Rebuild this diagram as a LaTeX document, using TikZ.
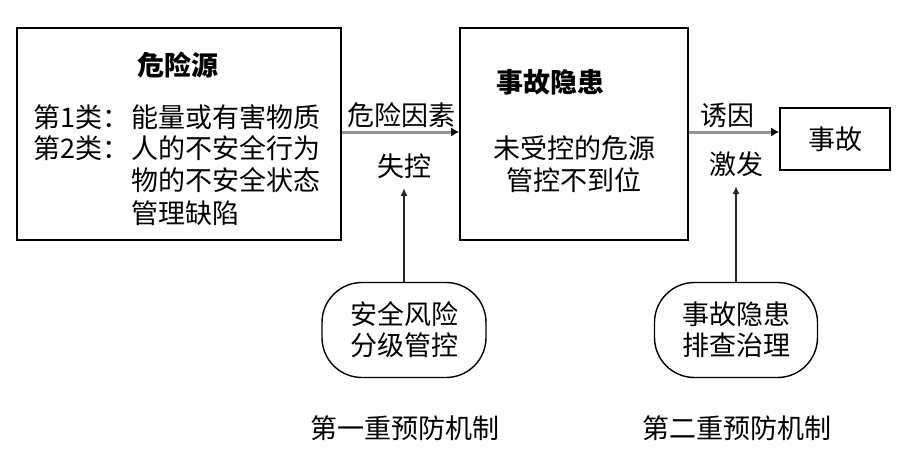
\documentclass[tikz,border=0pt]{standalone}
\usepackage{fontspec}
\setmainfont{Noto Sans CJK SC}
\usetikzlibrary{arrows.meta}
\begin{document}
\begin{tikzpicture}[x=1pt,y=-1pt,
  every node/.style={font=\fontsize{27}{31}\selectfont, inner sep=0pt},
  boxA/.style={draw, line width=1.6pt},
  pill/.style={draw, line width=1.4pt, rounded corners=40pt},
  harrow/.style={draw=gray!85, line width=3pt, -{Latex[length=8pt,width=9pt,black]}},
  varrow/.style={draw=black!85, line width=1.6pt, -{Latex[length=8pt,width=7pt]}}]
\useasboundingbox (0,0) rectangle (916,464);
\node[boxA, minimum width=324pt, minimum height=212pt] (src) at (179,134) {};
\node[font=\fontsize{27}{31}\selectfont\bfseries] (srct) at (178,65) {危险源};
\node[anchor=west] (c1) at (33,117) {第1类：};
\node[anchor=west] (c1t) at (131,117) {能量或有害物质};
\node[anchor=west] (c2) at (33,148) {第2类：};
\node[anchor=west] (c2t) at (131,148) {人的不安全行为};
\node[anchor=west] (c3t) at (131,180) {物的不安全状态};
\node[anchor=west] (c4t) at (131,213) {管理缺陷};

\node[boxA, minimum width=228pt, minimum height=212pt] (haz) at (574,134) {};
\node[font=\fontsize{27}{31}\selectfont\bfseries] (hazt) at (550,82) {事故隐患};
\node (h1) at (574,148) {未受控的危源};
\node (h2) at (574,180) {管控不到位};

\node[boxA, minimum width=110pt, minimum height=62pt] (acc) at (835,139) {事故};

\draw[harrow] (src.east |- 0,132) -- (haz.west |- 0,132);
\node (l1) at (401,115) {危险因素};
\node (l2) at (404,166) {失控};
\draw[harrow] (haz.east |- 0,132) -- (acc.west |- 0,132);
\node (l3) at (727,115) {诱因};
\node (l4) at (736,164) {激发};

\node[pill, minimum width=164pt, minimum height=95pt, align=center] (p1) at (404,330) {安全风险\\分级管控};
\node[pill, minimum width=163pt, minimum height=95pt, align=center] (p2) at (736,330) {事故隐患\\排查治理};
\coordinate (t1) at (404,188);
\coordinate (t2) at (736,186);
\draw[varrow] (p1.north) -- (t1);
\draw[varrow] (p2.north) -- (t2);

\node (m1) at (405,428) {第一重预防机制};
\node (m2) at (737,428) {第二重预防机制};
\end{tikzpicture}
\end{document}
